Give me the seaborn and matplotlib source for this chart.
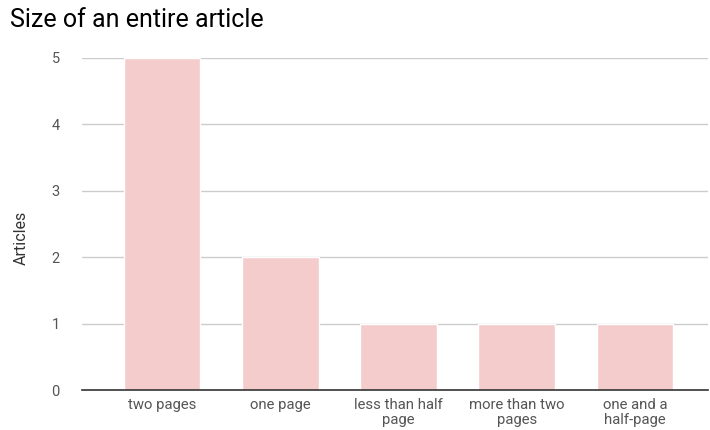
import matplotlib
matplotlib.use("Agg")
import matplotlib.pyplot as plt
import seaborn as sns
import pandas as pd

categories = ["two pages", "one page", "less than half\npage", "more than two\npages", "one and a\nhalf-page"]
values = [5, 2, 1, 1, 1]
yticks = [0, 1, 2, 3, 4, 5]

sns.set_style("white")
plt.rcParams['font.family'] = ['Roboto', 'DejaVu Sans']

df = pd.DataFrame({"cat": categories, "val": values})

fig = plt.figure(figsize=(7.1, 4.3), dpi=100)
ax = fig.add_axes([82/710, 1-390/430, (708-82)/710, (390-58)/430])
sns.barplot(data=df, x="cat", y="val", color="#f4cccc", saturation=1, width=0.65, ax=ax, zorder=3)
ax.set_xlim(-0.677, 4.617)
ax.set_ylim(0, 5)
ax.set_yticks(yticks)
ax.yaxis.grid(True, color="#cccccc", linewidth=1, zorder=0)
ax.set_axisbelow(True)
for s in ["top", "right", "left"]:
    ax.spines[s].set_visible(False)
ax.spines["bottom"].set_color("#333333")
ax.spines["bottom"].set_linewidth(1.2)
ax.spines["bottom"].set_zorder(4)
ax.tick_params(axis="both", length=0, labelcolor="#555555")
ax.tick_params(axis="y", pad=16, labelsize=10.5)
ax.tick_params(axis="x", pad=6, labelsize=10.7)
for lbl in ax.get_xticklabels():
    lbl.set_linespacing(1.1)
ax.set_xlabel("")
ax.set_ylabel("Articles", fontsize=11.5, color="#333333")
ax.yaxis.set_label_coords((29 - 82) / 626, (390 - 238) / 332)
fig.text(10/710, 1-20/430, "Size of an entire article", fontsize=18, color="#000000", va="center", ha="left")
fig.savefig("out.png", dpi=100)
